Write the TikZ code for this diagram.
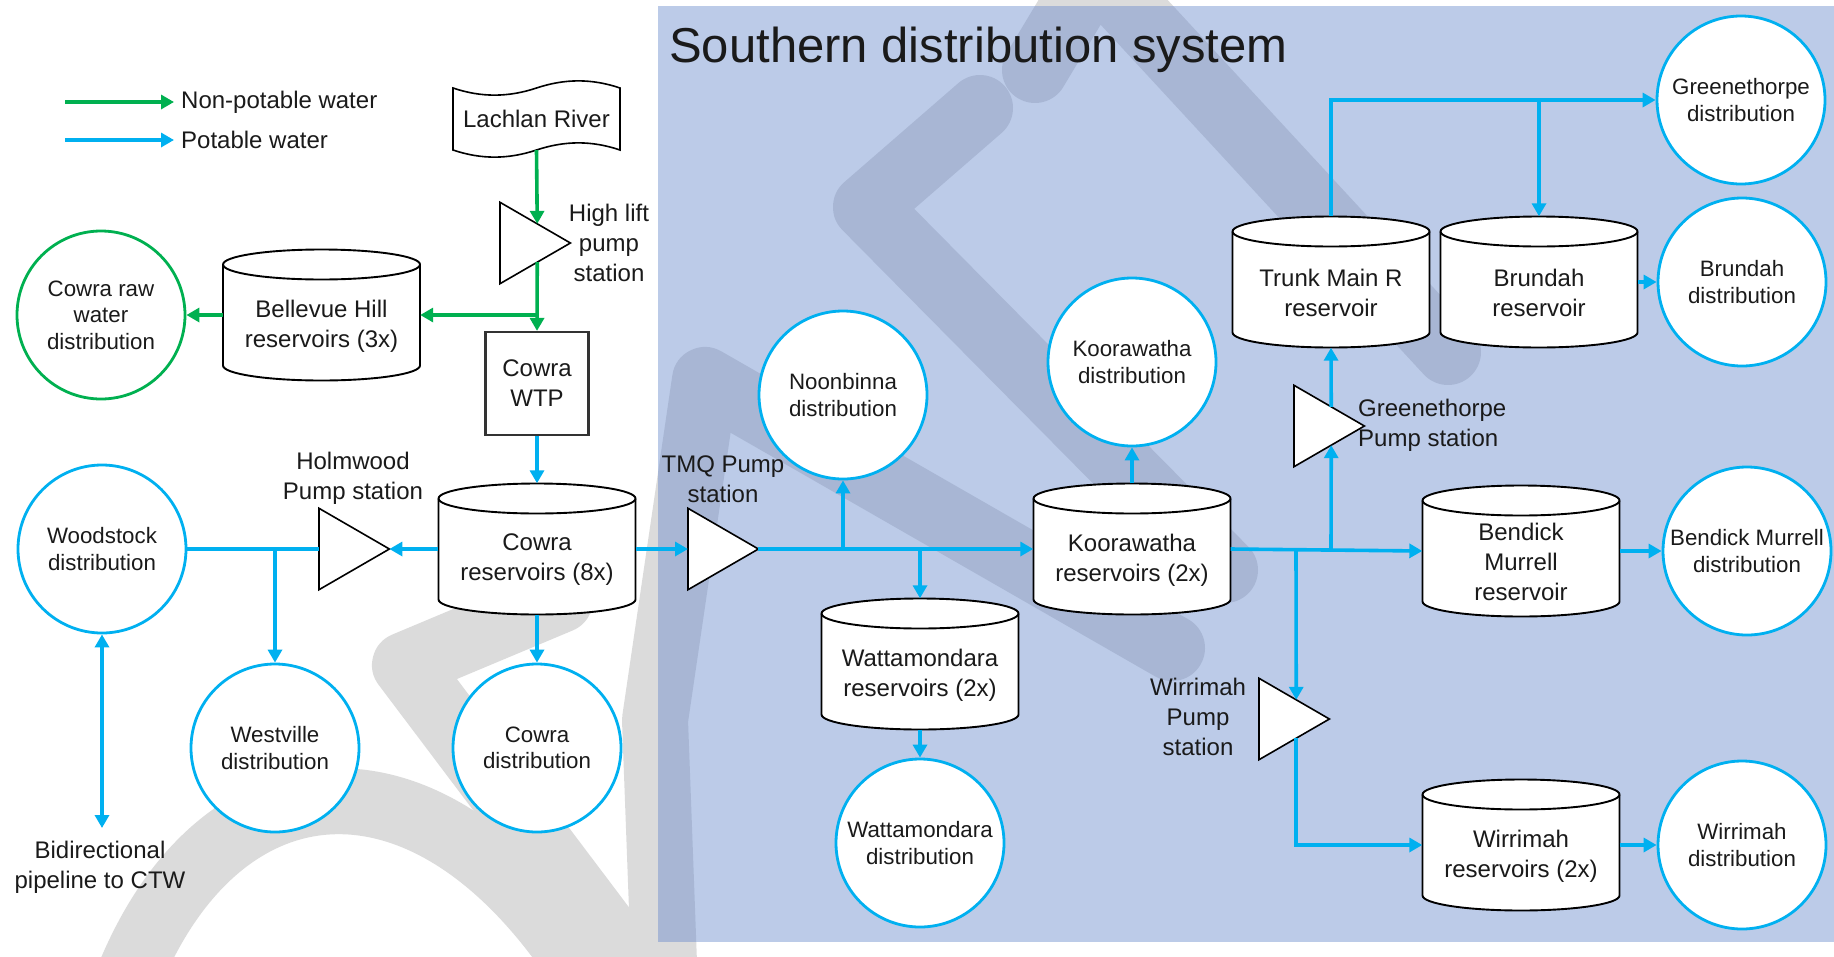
\documentclass[tikz,border=0pt]{standalone}
\usepackage{fontspec}
\setmainfont{Liberation Sans}
\usetikzlibrary{arrows.meta,calc}

\definecolor{pgreen}{RGB}{0,176,80}
\definecolor{pblue}{RGB}{0,176,240}
\definecolor{zoneblue}{RGB}{106,139,204}
\definecolor{wmgrey}{RGB}{219,219,219}
\definecolor{ink}{RGB}{26,26,26}

% reservoir: name, x, y (downwards), label
\newcommand\tankat[4]{%
  \path[cylline] ({#2-98.5},{-(#3)+50.5}) -- ({#2-98.5},{-(#3)-50.5})
     arc[start angle=180,end angle=360,x radius=98.5,y radius=15]
     -- ({#2+98.5},{-(#3)+50.5})
     arc[start angle=0,end angle=180,x radius=98.5,y radius=15] -- cycle;
  \draw[cylline,fill=none] ({#2-98.5},{-(#3)+50.5})
     arc[start angle=180,end angle=360,x radius=98.5,y radius=15];
  \node[cylbox] (#1) at (#2,-#3) {};
  \node[bodytext] (#1-t) at (#2,{-(#3)-11}) {#4};
}
% pump station: name, x of the base, y (downwards)
\newcommand\pumpat[3]{%
  \node[pumpbox,anchor=west] (#1) at (#2,-#3) {};
  \path[pumpline] (#1.north west) -- (#1.east) -- (#1.south west) -- cycle;
}

\begin{document}
\begin{tikzpicture}[x=1pt,y=1pt,
  every node/.style={text=ink},
  bodytext/.style={font=\fontsize{24}{30}\selectfont,align=center,inner sep=0pt},
  circtext/.style={font=\fontsize{22.3}{26.5}\selectfont,align=center},
  distnode/.style={circle,draw=pblue,line width=2.8pt,fill=white,minimum size=168pt,inner sep=0pt,circtext},
  cylbox/.style={rectangle,minimum width=197pt,minimum height=131pt,inner sep=0pt},
  pumpbox/.style={rectangle,minimum width=70pt,minimum height=81pt,inner sep=0pt},
  pumpline/.style={draw=black,line width=1.6pt,fill=white,line join=miter},
  cylline/.style={draw=black,line width=1.9pt,fill=white},
  flow/.style={-{Triangle[length=13pt,width=14pt]}},
  potpipe/.style={draw=pblue,line width=3.6pt},
  rawpipe/.style={draw=pgreen,line width=3.6pt},
  wmband/.style={draw=wmgrey,line width=66pt,line cap=round,line join=round},
]
\useasboundingbox (0,0) rectangle (1834,-956);

% faint background watermark strokes
\draw[wmband] (1035,-70) -- (1095,30) -- (1448,-352);
\draw[wmband] (980,-108) -- (866,-207) -- (1225,-570);
\draw[wmband] (1172,-648) -- (705,-380) -- (655,-720) -- (665,-990);
\draw[wmband] (120,-1000) .. controls (210,-745) and (440,-725) .. (600,-1000);
\draw[wmband] (560,-600) -- (405,-665) -- (650,-990);

% southern zone
\fill[zoneblue,fill opacity=0.45] (658,-6) rectangle (1834,-942);
\node[font=\fontsize{49}{58}\selectfont,anchor=base west,inner sep=0pt] (title) at (669,-62) {Southern distribution system};

% legend
\coordinate (lgA1) at (65,-102);
\coordinate (lgA2) at (174,-102);
\coordinate (lgB1) at (65,-140);
\coordinate (lgB2) at (174,-140);
\draw[rawpipe,flow] (lgA1) -- (lgA2);
\draw[potpipe,flow] (lgB1) -- (lgB2);
\node[bodytext,anchor=west] (lgtA) at (181,-102) {Non-potable water};
\node[bodytext,anchor=west] (lgtB) at (181,-140) {Potable water};

% river source
\path[draw=black,line width=1.6pt,fill=white]
  (453,-88) .. controls (481,-97.5) and (508,-97.5) .. (536.5,-88)
  .. controls (565,-78.5) and (592,-78.5) .. (620,-88) -- (620,-150)
  .. controls (592,-140.5) and (565,-140.5) .. (536.5,-150)
  .. controls (508,-159.5) and (481,-159.5) .. (453,-150) -- cycle;
\node[bodytext,minimum width=167pt,minimum height=62pt] (river) at (536.5,-119) {Lachlan River};

% treatment plant
\node[bodytext,draw=black!80,line width=2.2pt,fill=white,minimum size=103pt] (wtp) at (537,-383.5) {Cowra\\WTP};

% pump stations
\pumpat{hl}{500}{243}
\pumpat{hw}{319}{549}
\pumpat{tmq}{688}{549}
\pumpat{wp}{1259}{719}
\pumpat{gp}{1294}{426}
\node[bodytext] (hltxt) at (609,-243) {High lift\\pump\\station};
\node[bodytext] (hwtxt) at (353,-478) {Holmwood\\Pump station};
\node[bodytext] (tmqtxt) at (723,-479) {TMQ Pump\\station};
\node[bodytext] (wptxt) at (1198,-717) {Wirrimah\\Pump\\station};
\node[bodytext,anchor=west,align=left] (gptxt) at (1358,-425) {Greenethorpe\\Pump station};
\node[bodytext] (ctwtxt) at (100,-867) {Bidirectional\\pipeline to CTW};

% reservoirs
\tankat{bh}{321.5}{315}{Bellevue Hill\\reservoirs (3x)}
\tankat{cr}{537}{549}{Cowra\\reservoirs (8x)}
\tankat{wr}{920}{664}{Wattamondara\\reservoirs (2x)}
\tankat{kr}{1132}{549}{Koorawatha\\reservoirs (2x)}
\tankat{tm}{1331}{282}{Trunk Main R\\reservoir}
\tankat{br}{1539}{282}{Brundah\\reservoir}
\tankat{bm}{1521}{551}{Bendick\\Murrell\\reservoir}
\tankat{wrr}{1521}{845}{Wirrimah\\reservoirs (2x)}

% distribution areas
\node[distnode,draw=pgreen] (crd) at (101,-315) {Cowra raw\\water\\distribution};
\node[distnode] (wd) at (102,-549) {Woodstock\\distribution};
\node[distnode] (wv) at (275,-748) {Westville\\distribution};
\node[distnode] (cd) at (537,-748) {Cowra\\distribution};
\node[distnode] (nd) at (843,-395) {Noonbinna\\distribution};
\node[distnode] (wdd) at (920,-843) {Wattamondara\\distribution};
\node[distnode] (kd) at (1132,-362) {Koorawatha\\distribution};
\node[distnode] (gd) at (1741,-100) {Greenethorpe\\distribution};
\node[distnode] (brd) at (1742,-282) {Brundah\\distribution};
\node[distnode] (bmd) at (1747,-551) {Bendick Murrell\\distribution};
\node[distnode] (wdist) at (1742,-845) {Wirrimah\\distribution};

% raw water
\coordinate (rawsplit) at (537,-315);
\draw[rawpipe,flow] (river.south) -- ($(hl.north west)!0.529!(hl.east)$);
\draw[rawpipe,flow] ($(hl.south west)!0.529!(hl.east)$) -- (wtp.north);
\draw[rawpipe,flow] (rawsplit) -- (bh.east);
\draw[rawpipe,flow] (bh.west) -- (crd.east);

% potable water, western side
\coordinate (wvsplit) at (275,-549);
\coordinate (ctw) at (102,-828);
\draw[potpipe,flow] (wtp.south) -- (cr.north);
\draw[potpipe,flow] (cr.south) -- (cd.north);
\draw[potpipe,flow] (cr.west) -- (hw.east);
\draw[potpipe] (hw.west) -- (wd.east);
\draw[potpipe,flow] (wvsplit) -- (wv.north);
\draw[potpipe,{Triangle[length=13pt,width=14pt]}-{Triangle[length=13pt,width=14pt]}] (wd.south) -- (ctw);

% potable water, southern system
\coordinate (nsplit) at (843,-549);
\coordinate (wtsplit) at (920,-549);
\coordinate (wirsplit) at (1296,-549);
\coordinate (gsplit) at (1331,-549);
\coordinate (bsplit) at (1539,-100);
\draw[potpipe,flow] (cr.east) -- (tmq.west);
\draw[potpipe,flow] (tmq.east) -- (kr.west);
\draw[potpipe,flow] (nsplit) -- (nd.south);
\draw[potpipe,flow] (wtsplit) -- (wr.north);
\draw[potpipe,flow] (wr.south) -- (wdd.north);
\draw[potpipe,flow] (kr.north) -- (kd.south);
\draw[potpipe,flow] (kr.east) -- (bm.west);
\draw[potpipe,flow] (wirsplit) -- ($(wp.north west)!0.529!(wp.east)$);
\draw[potpipe,flow] ($(wp.south west)!0.529!(wp.east)$) |- (wrr.west);
\draw[potpipe,flow] (gsplit) -- ($(gp.south west)!0.529!(gp.east)$);
\draw[potpipe,flow] ($(gp.north west)!0.529!(gp.east)$) -- (tm.south);
\draw[potpipe,flow] (tm.north) |- (gd.west);
\draw[potpipe,flow] (bsplit) -- (br.north);
\draw[potpipe,flow] (br.east) -- (brd.west);
\draw[potpipe,flow] (bm.east) -- (bmd.west);
\draw[potpipe,flow] (wrr.east) -- (wdist.west);
\end{tikzpicture}
\end{document}
